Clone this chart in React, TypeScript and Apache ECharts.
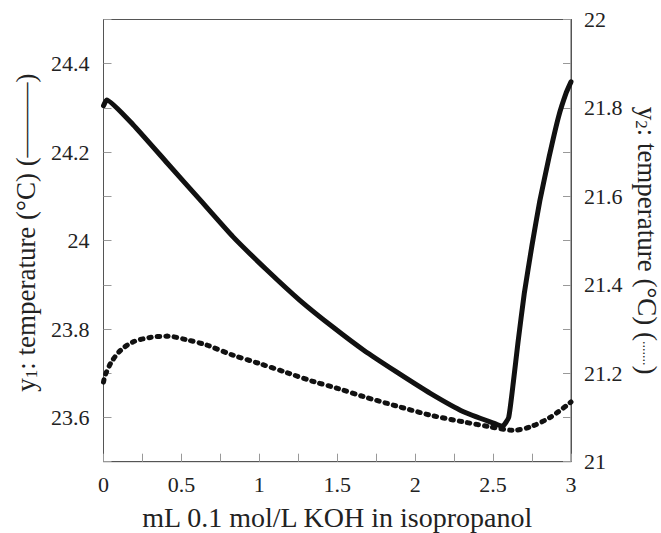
import React, { useEffect, useRef } from "react";
import * as echarts from "echarts";

// Solid curve (left axis, y1)
const solidX = [0, 0.02, 0.19, 0.41, 0.62, 0.83, 1.05, 1.26, 1.47, 1.67, 1.88, 2.1, 2.31, 2.52, 2.56, 2.6, 2.63, 2.66, 2.7, 2.75, 2.8, 2.86, 2.92, 2.97, 3.0];
const solidY = [24.305, 24.318, 24.262, 24.175, 24.092, 24.009, 23.933, 23.865, 23.805, 23.752, 23.703, 23.654, 23.613, 23.585, 23.58, 23.6, 23.68, 23.77, 23.88, 23.99, 24.09, 24.19, 24.28, 24.335, 24.359];

// Dotted curve (right axis, y2)
const dotX = [0, 0.01, 0.05, 0.11, 0.19, 0.3, 0.41, 0.53, 0.66, 0.83, 1.0, 1.18, 1.35, 1.5, 1.67, 1.88, 2.1, 2.31, 2.48, 2.63, 2.74, 2.87, 3.0];
const dotY = [21.18, 21.195, 21.225, 21.252, 21.271, 21.281, 21.284, 21.276, 21.264, 21.241, 21.222, 21.201, 21.181, 21.166, 21.147, 21.126, 21.105, 21.09, 21.079, 21.071, 21.079, 21.101, 21.135];

const xName = "mL 0.1 mol/L KOH in isopropanol";
const y1Name = "{a|y}{s|1}{a|: temperature (°C) (}{m|———}{a|)}";
const y2Name = "{a|y}{s|2}{a|: temperature (°C) (}{d|.......}{a|)}";

const FONT = "Liberation Serif";

export default function App() {
  const ref = useRef<HTMLDivElement>(null);
  useEffect(() => {
    if (!ref.current) return;
    const chart = echarts.init(ref.current, undefined, { renderer: "svg" });
    const rich = {
      a: { fontFamily: FONT, fontSize: 27, color: "#222", lineHeight: 28, verticalAlign: "middle" },
      s: { fontFamily: FONT, fontSize: 17, color: "#222", lineHeight: 28, verticalAlign: "bottom" },
      m: { fontFamily: FONT, fontSize: 25, color: "#222", lineHeight: 28, verticalAlign: "middle" },
      d: { fontFamily: FONT, fontSize: 14, color: "#222", lineHeight: 28, verticalAlign: "middle" },
    };
    const tickLabel = (v: number) => {
      const k = Math.round(v * 10);
      return k % 2 === 0 ? String(k / 10) : "";
    };
    chart.setOption({
      animation: false,
      backgroundColor: "#fff",
      textStyle: { fontFamily: FONT },
      grid: {
        left: 103.5,
        right: 90,
        top: 19.5,
        bottom: 71.3,
        show: true,
        borderColor: "#555",
        borderWidth: 1,
        containLabel: false,
        outerBoundsMode: "none",
      },
      xAxis: {
        type: "value",
        min: 0,
        max: 3,
        interval: 0.25,
        axisLine: { show: true, lineStyle: { color: "#555", width: 1 } },
        axisTick: { show: true, inside: true, length: 8, lineStyle: { color: "#999" } },
        axisLabel: {
          formatter: (v: number) => (Math.round(v * 4) % 2 === 0 ? String(v) : ""),
          fontFamily: FONT,
          fontSize: 22,
          color: "#222",
          margin: 12,
        },
        splitLine: { show: false },
        name: xName,
        nameLocation: "middle",
        nameGap: 42,
        nameTextStyle: { fontFamily: FONT, fontSize: 28, lineHeight: 28, color: "#222" },
      },
      yAxis: [
        {
          type: "value",
          position: "left",
          min: 23.5,
          max: 24.5,
          interval: 0.1,
          axisLine: { show: true, lineStyle: { color: "#555", width: 1 } },
          axisTick: { show: true, inside: true, length: 8, lineStyle: { color: "#999" } },
          axisLabel: { formatter: tickLabel, fontFamily: FONT, fontSize: 22, color: "#222", margin: 14 },
          splitLine: { show: false },
          name: y1Name,
          nameLocation: "middle",
          nameGap: 64,
          nameTextStyle: { fontFamily: FONT, fontSize: 27, color: "#222", rich, padding: [0, 0, 0, 16] },
        },
        {
          type: "value",
          position: "right",
          min: 21,
          max: 22,
          interval: 0.1,
          axisLine: { show: true, lineStyle: { color: "#555", width: 1 } },
          axisTick: { show: true, inside: true, length: 8, lineStyle: { color: "#999" } },
          axisLabel: { formatter: tickLabel, fontFamily: FONT, fontSize: 22, color: "#222", margin: 13 },
          splitLine: { show: false },
          name: y2Name,
          nameLocation: "middle",
          nameRotate: -90,
          nameGap: 61,
          nameTextStyle: { fontFamily: FONT, fontSize: 27, color: "#222", rich },
        },
      ],
      series: [
        {
          type: "line",
          yAxisIndex: 0,
          data: solidX.map((x, i) => [x, solidY[i]]),
          showSymbol: false,
          smooth: 0.15,
          lineStyle: { color: "#111", width: 5, join: "round", cap: "round" },
        },
        {
          type: "line",
          yAxisIndex: 1,
          data: dotX.map((x, i) => [x, dotY[i]]),
          showSymbol: false,
          smooth: 0.3,
          lineStyle: { color: "#111", width: 5, type: [2.5, 6], cap: "round" },
        },
      ],
    });
    return () => chart.dispose();
  }, []);
  return (
    <div
      ref={ref}
      style={{ position: "fixed", left: 0, top: 0, width: 661, height: 533 }}
    />
  );
}
